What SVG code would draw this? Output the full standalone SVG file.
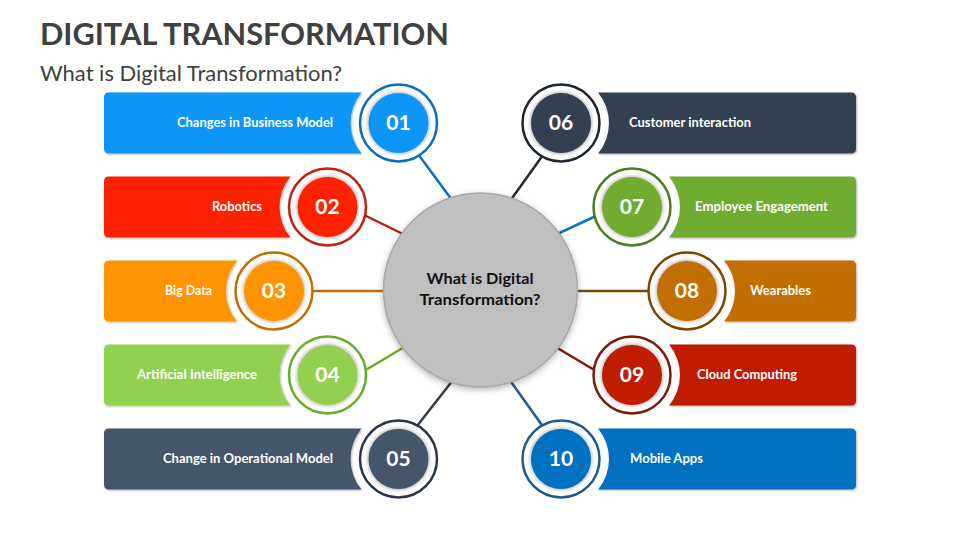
<svg xmlns="http://www.w3.org/2000/svg" width="960" height="540" viewBox="0 0 960 540">
<defs>
<filter id="sh" x="-30%" y="-30%" width="160%" height="160%"><feDropShadow dx="0" dy="0" stdDeviation="2" flood-color="#000" flood-opacity="0.45"/></filter>
<filter id="bsh" x="-5%" y="-20%" width="110%" height="140%"><feDropShadow dx="1" dy="1" stdDeviation="1" flood-color="#000" flood-opacity="0.3"/></filter>
<filter id="csh" x="-20%" y="-20%" width="140%" height="140%"><feDropShadow dx="0" dy="2" stdDeviation="3" flood-color="#000" flood-opacity="0.3"/></filter>
</defs>
<style>
.title{font-family:Lato,"Open Sans","Liberation Sans",sans-serif;font-weight:700;font-size:30px;fill:#404040}
.sub{font-family:Lato,"Open Sans","Liberation Sans",sans-serif;font-weight:400;font-size:22px;fill:#404040}
.lbl{font-family:Lato,"Open Sans","Liberation Sans",sans-serif;font-weight:700;font-size:13px;fill:#fff}
.num{font-family:Lato,"Open Sans","Liberation Sans",sans-serif;font-weight:700;font-size:21px;fill:#fff;text-anchor:middle}
.ctr{font-family:Lato,"Open Sans","Liberation Sans",sans-serif;font-weight:700;font-size:15px;fill:#111;text-anchor:middle}
.ring{fill:#fff;stroke-width:2.5}
.bar{filter:url(#bsh)}
.in{filter:url(#sh)}
.con line{stroke-width:2.5;fill:none}
</style>
<rect width="960" height="540" fill="#fff"/>
<text class="title" x="40" y="45" textLength="409" lengthAdjust="spacingAndGlyphs">DIGITAL TRANSFORMATION</text>
<text class="sub" x="40" y="81" textLength="302" lengthAdjust="spacingAndGlyphs">What is Digital Transformation?</text>

<g id="connectors" class="con">
<line x1="418" y1="154" x2="452" y2="200" stroke="#0A6EBD"/>
<line x1="364" y1="215" x2="405" y2="235" stroke="#B3220B"/>
<line x1="312" y1="291" x2="386" y2="291" stroke="#C06F00"/>
<line x1="364" y1="371" x2="406" y2="346" stroke="#6AAD2C"/>
<line x1="417" y1="426" x2="453" y2="380" stroke="#2F3A4A"/>
<line x1="543" y1="155" x2="510" y2="201" stroke="#222A35"/>
<line x1="596" y1="216" x2="555" y2="235" stroke="#0B74C5"/>
<line x1="575" y1="291" x2="649" y2="291" stroke="#7F4600"/>
<line x1="554" y1="346" x2="596" y2="371" stroke="#7F1A08"/>
<line x1="509" y1="379" x2="544" y2="428" stroke="#1E5A8E"/>
</g>

<g id="center">
<circle cx="480.5" cy="290" r="97" fill="#BFBFBF" stroke="#A8A8A8" stroke-width="1.5" filter="url(#csh)"/>
<text class="ctr" x="480" y="284" textLength="107" lengthAdjust="spacingAndGlyphs">What is Digital</text>
<text class="ctr" x="480" y="305" textLength="121" lengthAdjust="spacingAndGlyphs">Transformation?</text>
</g>

<g id="node01">
<path class="bar" fill="#0A96F7" d="M109 92.5 H361.43 A48 48 0 0 0 361.43 153.5 H109 Q104 153.5 104 148.5 V97.5 Q104 92.5 109 92.5 Z"/>
<circle class="ring" cx="398.5" cy="123" r="38.5" stroke="#0A6EBD"/>
<circle class="in" cx="398.5" cy="123" r="30" fill="#0A96F7"/>
<text class="num" x="398.5" y="130">01</text>
<text class="lbl" x="333" y="126.5" text-anchor="end" textLength="156" lengthAdjust="spacingAndGlyphs">Changes in Business Model</text>
</g>

<g id="node02">
<path class="bar" fill="#FF2400" d="M109 176.5 H290.43 A48 48 0 0 0 290.43 237.5 H109 Q104 237.5 104 232.5 V181.5 Q104 176.5 109 176.5 Z"/>
<circle class="ring" cx="327.5" cy="207" r="38.5" stroke="#C0220B"/>
<circle class="in" cx="327.5" cy="207" r="30" fill="#FF2400"/>
<text class="num" x="327.5" y="214">02</text>
<text class="lbl" x="262" y="210.5" text-anchor="end" textLength="50" lengthAdjust="spacingAndGlyphs">Robotics</text>
</g>

<g id="node03">
<path class="bar" fill="#FF9400" d="M109 260.5 H236.93 A48 48 0 0 0 236.93 321.5 H109 Q104 321.5 104 316.5 V265.5 Q104 260.5 109 260.5 Z"/>
<circle class="ring" cx="274" cy="291" r="38.5" stroke="#C06F00"/>
<circle class="in" cx="274" cy="291" r="30" fill="#FF9400"/>
<text class="num" x="274" y="298">03</text>
<text class="lbl" x="212" y="294.5" text-anchor="end" textLength="47" lengthAdjust="spacingAndGlyphs">Big Data</text>
</g>

<g id="node04">
<path class="bar" fill="#92D050" d="M109 344.5 H290.43 A48 48 0 0 0 290.43 405.5 H109 Q104 405.5 104 400.5 V349.5 Q104 344.5 109 344.5 Z"/>
<circle class="ring" cx="327.5" cy="375" r="38.5" stroke="#6AAD2C"/>
<circle class="in" cx="327.5" cy="375" r="30" fill="#92D050"/>
<text class="num" x="327.5" y="382">04</text>
<text class="lbl" x="257" y="378.5" text-anchor="end" textLength="120" lengthAdjust="spacingAndGlyphs">Artificial Intelligence</text>
</g>

<g id="node05">
<path class="bar" fill="#44546A" d="M109 428.5 H361.43 A48 48 0 0 0 361.43 489.5 H109 Q104 489.5 104 484.5 V433.5 Q104 428.5 109 428.5 Z"/>
<circle class="ring" cx="398.5" cy="459" r="38.5" stroke="#2A3645"/>
<circle class="in" cx="398.5" cy="459" r="30" fill="#44546A"/>
<text class="num" x="398.5" y="466">05</text>
<text class="lbl" x="333" y="462.5" text-anchor="end" textLength="170" lengthAdjust="spacingAndGlyphs">Change in Operational Model</text>
</g>

<g id="node06">
<path class="bar" fill="#333F50" d="M598.07 92.5 H851 Q856 92.5 856 97.5 V148.5 Q856 153.5 851 153.5 H598.07 A48 48 0 0 0 598.07 92.5 Z"/>
<circle class="ring" cx="561" cy="123" r="38.5" stroke="#1D252F"/>
<circle class="in" cx="561" cy="123" r="30" fill="#333F50"/>
<text class="num" x="561" y="130">06</text>
<text class="lbl" x="629" y="126.5" textLength="122" lengthAdjust="spacingAndGlyphs">Customer interaction</text>
</g>

<g id="node07">
<path class="bar" fill="#6FAB30" d="M669.07 176.5 H851 Q856 176.5 856 181.5 V232.5 Q856 237.5 851 237.5 H669.07 A48 48 0 0 0 669.07 176.5 Z"/>
<circle class="ring" cx="632" cy="207" r="38.5" stroke="#4B7D22"/>
<circle class="in" cx="632" cy="207" r="30" fill="#6FAB30"/>
<text class="num" x="632" y="214">07</text>
<text class="lbl" x="695" y="210.5" textLength="133" lengthAdjust="spacingAndGlyphs">Employee Engagement</text>
</g>

<g id="node08">
<path class="bar" fill="#C26E00" d="M724.07 260.5 H851 Q856 260.5 856 265.5 V316.5 Q856 321.5 851 321.5 H724.07 A48 48 0 0 0 724.07 260.5 Z"/>
<circle class="ring" cx="687" cy="291" r="38.5" stroke="#7F4600"/>
<circle class="in" cx="687" cy="291" r="30" fill="#C26E00"/>
<text class="num" x="687" y="298">08</text>
<text class="lbl" x="750" y="294.5" textLength="61" lengthAdjust="spacingAndGlyphs">Wearables</text>
</g>

<g id="node09">
<path class="bar" fill="#C01A00" d="M669.07 344.5 H851 Q856 344.5 856 349.5 V400.5 Q856 405.5 851 405.5 H669.07 A48 48 0 0 0 669.07 344.5 Z"/>
<circle class="ring" cx="632" cy="375" r="38.5" stroke="#7F1A08"/>
<circle class="in" cx="632" cy="375" r="30" fill="#C01A00"/>
<text class="num" x="632" y="382">09</text>
<text class="lbl" x="697" y="378.5" textLength="100" lengthAdjust="spacingAndGlyphs">Cloud Computing</text>
</g>

<g id="node10">
<path class="bar" fill="#0070C0" d="M598.07 428.5 H851 Q856 428.5 856 433.5 V484.5 Q856 489.5 851 489.5 H598.07 A48 48 0 0 0 598.07 428.5 Z"/>
<circle class="ring" cx="561" cy="459" r="38.5" stroke="#1E5A8E"/>
<circle class="in" cx="561" cy="459" r="30" fill="#0070C0"/>
<text class="num" x="561" y="466">10</text>
<text class="lbl" x="630" y="462.5" textLength="73" lengthAdjust="spacingAndGlyphs">Mobile Apps</text>
</g>
</svg>
